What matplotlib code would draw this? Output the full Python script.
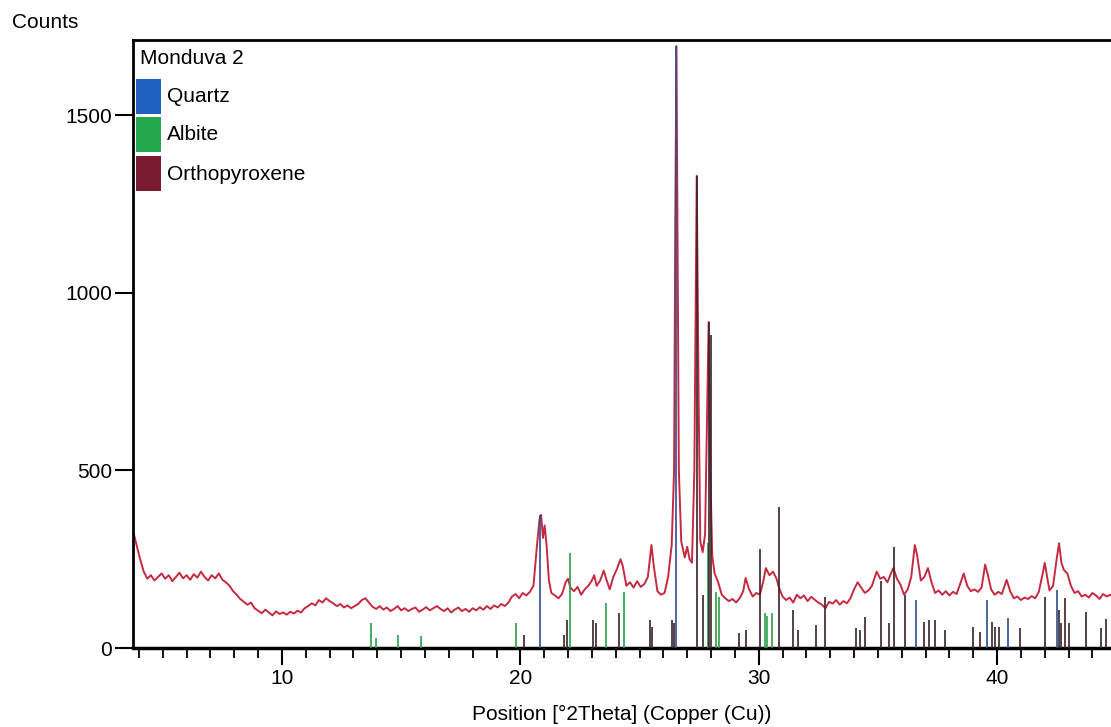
import numpy as np
import matplotlib
matplotlib.use("Agg")
import matplotlib.pyplot as plt
from matplotlib.patches import Rectangle

plt.rcParams['font.family'] = ['Liberation Sans', 'DejaVu Sans']
FS = 15

two_theta = [
    3.75, 3.9, 4.05, 4.2, 4.35, 4.5, 4.65, 4.8, 4.95, 5.1, 5.25, 5.4, 5.55, 5.7, 5.85,
    6.0, 6.15, 6.3, 6.45, 6.6, 6.75, 6.9, 7.05, 7.2, 7.35, 7.5, 7.65, 7.8, 7.95,
    8.1, 8.25, 8.4, 8.55, 8.7, 8.85, 9.0, 9.15, 9.3, 9.45, 9.6, 9.75, 9.9,
    10.05, 10.2, 10.35, 10.5, 10.65, 10.8, 10.95, 11.1, 11.25, 11.4, 11.55, 11.7, 11.85,
    12.0, 12.15, 12.3, 12.45, 12.6, 12.75, 12.9, 13.05, 13.2, 13.35, 13.5, 13.65, 13.8, 13.95,
    14.1, 14.25, 14.4, 14.55, 14.7, 14.85, 15.0, 15.15, 15.3, 15.45, 15.6, 15.75, 15.9,
    16.05, 16.2, 16.35, 16.5, 16.65, 16.8, 16.95, 17.1, 17.25, 17.4, 17.55, 17.7, 17.85,
    18.0, 18.15, 18.3, 18.45, 18.6, 18.75, 18.9, 19.05, 19.2, 19.35, 19.5, 19.65, 19.8, 19.95,
    20.1, 20.25, 20.4, 20.55, 20.7, 20.8, 20.87, 20.95, 21.02, 21.1, 21.2, 21.3, 21.45, 21.6,
    21.75, 21.9, 22.0, 22.1, 22.25, 22.4, 22.55, 22.7, 22.85, 23.0, 23.1, 23.2, 23.35, 23.5,
    23.6, 23.75, 23.9, 24.05, 24.2, 24.3, 24.45, 24.6, 24.75, 24.9, 25.05, 25.2, 25.35, 25.5,
    25.6, 25.75, 25.9, 26.05, 26.2, 26.35, 26.45, 26.5, 26.55, 26.6, 26.65, 26.75, 26.9, 27.0,
    27.1, 27.2, 27.3, 27.4, 27.48, 27.55, 27.65, 27.75, 27.82, 27.9, 27.97, 28.05, 28.15, 28.3,
    28.45, 28.6, 28.75, 28.9, 29.05, 29.2, 29.35, 29.45, 29.6, 29.75, 29.9, 30.05, 30.2, 30.3,
    30.45, 30.6, 30.75, 30.85, 31.0, 31.15, 31.3, 31.45, 31.6, 31.75, 31.9, 32.05, 32.2, 32.35,
    32.5, 32.65, 32.8, 32.95, 33.1, 33.25, 33.4, 33.55, 33.7, 33.85, 34.0, 34.15, 34.3, 34.45,
    34.6, 34.75, 34.95, 35.1, 35.25, 35.4, 35.55, 35.65, 35.8, 35.95, 36.1, 36.25, 36.4, 36.55,
    36.65, 36.8, 36.95, 37.1, 37.25, 37.4, 37.55, 37.7, 37.85, 38.0, 38.15, 38.3, 38.45, 38.6,
    38.75, 38.9, 39.05, 39.2, 39.35, 39.5, 39.6, 39.75, 39.9, 40.05, 40.2, 40.4, 40.55, 40.7,
    40.85, 41.0, 41.15, 41.3, 41.45, 41.6, 41.75, 41.9, 42.0, 42.1, 42.2, 42.35, 42.5, 42.6,
    42.7, 42.8, 42.95, 43.1, 43.25, 43.4, 43.55, 43.7, 43.85, 44.0, 44.15, 44.3, 44.45, 44.6,
    44.75, 44.9,
]
counts = [
    330, 290, 250, 215, 195, 205, 190, 200, 210, 195, 205, 188, 200, 212, 196,
    205, 192, 208, 198, 215, 200, 190, 205, 196, 210, 192, 185, 175, 160,
    150, 138, 130, 122, 128, 112, 105, 98, 108, 100, 92, 103, 96,
    100, 94, 102, 97, 105, 100, 112, 118, 126, 120, 135, 128, 140,
    132, 126, 118, 124, 114, 120, 112, 118, 124, 135, 140, 128, 116, 110,
    118, 108, 114, 104, 110, 118, 106, 112, 104, 110, 114, 102, 108,
    115, 106, 112, 118, 110, 104, 112, 100, 108, 114, 104, 110, 102,
    112, 106, 115, 108, 118, 110, 120, 114, 124, 118, 128, 145, 152, 140,
    155, 148, 158, 175, 290, 360, 375, 310, 345, 290, 190, 155, 148, 140,
    152, 185, 195, 170, 160, 172, 150, 165, 175, 190, 205, 175, 190, 218,
    195, 165, 200, 222, 250, 230, 175, 185, 170, 188, 172, 180, 200, 290,
    230, 160, 150, 155, 200, 290, 500, 1200, 1695, 1100, 500, 300, 255, 285,
    250, 240, 500, 1330, 700, 300, 270, 320, 600, 918, 500, 260, 210, 185,
    150, 140, 132, 138, 128, 140, 160, 197, 165, 145, 155, 150, 190, 225,
    205, 215, 195, 170, 145, 135, 142, 128, 150, 140, 148, 132, 144, 136,
    128, 122, 112, 130, 125, 135, 122, 132, 126, 140, 165, 185, 170, 155,
    162, 175, 215, 195, 200, 185, 210, 225, 195, 178, 150, 165, 200, 290,
    260, 190, 200, 225, 185, 155, 162, 150, 160, 148, 158, 152, 180, 210,
    175, 160, 165, 158, 170, 235, 210, 165, 150, 158, 152, 192, 160, 140,
    145, 135, 142, 138, 146, 140, 158, 205, 240, 200, 162, 175, 250, 295,
    240, 220, 210, 175, 155, 160, 145, 150, 142, 155, 148, 138, 152, 145,
    150, 142,
]

# reference sticks
quartz_pos = [20.83, 26.55, 36.6, 39.56, 40.44, 42.5]
quartz_h = [375, 1695, 135, 135, 85, 163]

albite_pos = [13.73, 13.94, 14.86, 15.83, 19.8, 22.07, 23.58, 24.34, 27.86,
              28.2, 28.32, 30.25, 30.33, 30.54]
albite_h = [70, 28, 37, 34, 70, 267, 127, 158, 296, 158, 144, 99, 90, 99]

opx_pos = [20.14, 21.82, 21.95, 23.04, 23.16, 24.13, 25.43, 25.51, 26.35, 26.43,
           27.43, 27.65, 27.92, 28.0, 29.16, 29.45, 30.05, 30.87, 31.42, 31.63,
           32.39, 32.8, 34.1, 34.27, 34.44, 35.11, 35.45, 35.66, 36.12, 36.92,
           37.13, 37.38, 37.8, 38.97, 39.3, 39.8, 39.93, 40.1, 40.98, 42.03,
           42.58, 42.7, 42.87, 43.0, 43.75, 44.34, 44.55]
opx_h = [37, 37, 79, 79, 70, 99, 79, 59, 79, 70,
         1330, 150, 918, 880, 42, 51, 280, 397, 107, 51,
         65, 144, 56, 51, 87, 190, 70, 285, 150, 73,
         79, 79, 51, 59, 45, 73, 59, 59, 56, 144,
         107, 70, 141, 70, 101, 56, 82]

phases = ['Quartz', 'Albite', 'Orthopyroxene']
phase_colors = ['#1f5fc0', '#22a84a', '#7a1a30']

W, H = 1111, 727
fig = plt.figure(figsize=(W / 100, H / 100), dpi=100)
ax = fig.add_axes([133 / W, (H - 648) / H, (W - 133) / W, 608 / H])

ax.plot(two_theta, counts, color='#c62a40', lw=1.4, zorder=2)
ax.vlines(quartz_pos, 0, quartz_h, color='#2c4f90', lw=1.2, zorder=3)
ax.vlines(albite_pos, 0, albite_h, color='#2aa04c', lw=1.2, zorder=3)
ax.vlines(opx_pos, 0, opx_h, color='#3a2228', lw=1.2, zorder=3)

ax.set_xlim(3.75, 44.78)
ax.set_ylim(0, 1712)
ax.set_xticks([10, 20, 30, 40])
ax.set_xticks(np.arange(4, 45, 1), minor=True)
ax.set_yticks([0, 500, 1000, 1500])
ax.tick_params(axis='x', which='major', length=12, width=1.5, labelsize=FS, pad=3)
ax.tick_params(axis='x', which='minor', length=7, width=1.3)
ax.tick_params(axis='y', which='major', length=13, width=1.5, labelsize=FS, pad=2)

for s in ['left', 'top', 'bottom']:
    ax.spines[s].set_linewidth(2)
ax.spines['bottom'].set_linewidth(2.5)
ax.spines['right'].set_visible(False)

ax.set_xlabel('Position [°2Theta] (Copper (Cu))', fontsize=FS, labelpad=12)
fig.text(12 / W, 1 - 22 / H, 'Counts', fontsize=FS, va='center', ha='left')


def px(x, y):
    return x / W, 1 - y / H


# legend block in the top left corner
fig.text(*px(140, 59), 'Monduva 2', fontsize=FS, va='center', ha='left')
tops = [79, 117, 156]
for name, col, t in zip(phases, phase_colors, tops):
    x0, y0 = px(136, t + 35)
    fig.patches.append(Rectangle((x0, y0), 25 / W, 35 / H, transform=fig.transFigure,
                                 facecolor=col, edgecolor='none'))
    fig.text(*px(167, t + 18), name, fontsize=FS, va='center', ha='left')

fig.savefig('out.png', dpi=100)
